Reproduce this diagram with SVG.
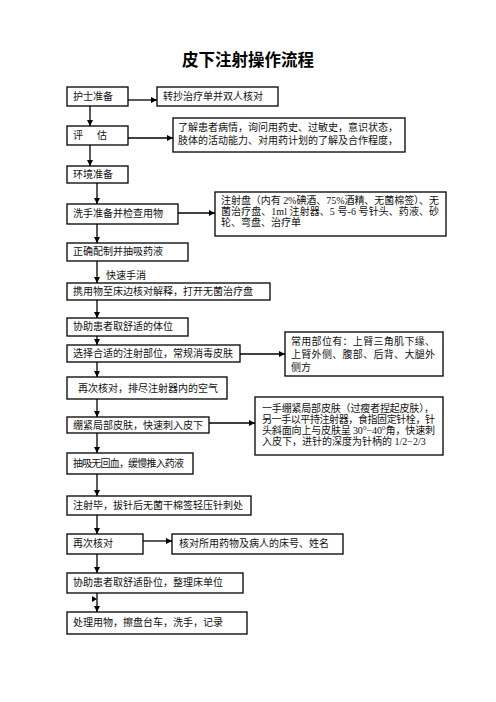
<svg xmlns="http://www.w3.org/2000/svg" width="496" height="702" viewBox="0 0 496 702">
<defs>
<marker id="ah" markerWidth="6" markerHeight="6" refX="6" refY="3" orient="auto" markerUnits="userSpaceOnUse">
<path d="M0,0 L6,3 L0,6 z" fill="#000"/>
</marker>
<style>
.box{fill:#fff;stroke:#000;stroke-width:1.3}
.t{font-family:"Liberation Serif","Noto Sans CJK SC",serif;font-size:10px;fill:#111}
.title{font-family:"Liberation Sans","Noto Sans CJK SC",sans-serif;font-size:16.5px;font-weight:bold;fill:#000}
.c{stroke:#000;stroke-width:1.3;fill:none}
.ca{stroke:#000;stroke-width:1.3;fill:none;marker-end:url(#ah)}
</style>
</defs>
<rect width="496" height="702" fill="#fff"/>
<text class="title" x="248" y="66" text-anchor="middle">皮下注射操作流程</text>

<g id="connectors">
<line class="ca" x1="90" y1="106" x2="90" y2="126"/>
<line class="ca" x1="90" y1="145" x2="90" y2="166"/>
<line class="ca" x1="97" y1="183" x2="97" y2="204"/>
<line class="ca" x1="97" y1="224" x2="97" y2="243"/>
<line class="ca" x1="97" y1="261" x2="97" y2="283"/>
<line class="ca" x1="97" y1="300" x2="97" y2="318"/>
<line class="ca" x1="97" y1="336" x2="97" y2="345"/>
<line class="ca" x1="97" y1="362" x2="97" y2="377"/>
<line class="ca" x1="97" y1="399" x2="97" y2="417"/>
<line class="ca" x1="97" y1="433" x2="97" y2="453"/>
<line class="ca" x1="97" y1="474" x2="97" y2="496"/>
<line class="ca" x1="97" y1="515" x2="97" y2="534"/>
<line class="ca" x1="97" y1="554" x2="97" y2="573"/>
<line class="ca" x1="97" y1="593" x2="97" y2="612"/>
<path d="M92,596 L97,599 L92,602 z" fill="#000"/>
<line class="ca" x1="128" y1="100" x2="157" y2="100"/>
<line class="ca" x1="128" y1="138" x2="173" y2="138"/>
<line class="ca" x1="178" y1="213" x2="215" y2="213"/>
<line class="ca" x1="240" y1="354" x2="285" y2="354"/>
<line class="ca" x1="209" y1="423" x2="255" y2="423"/>
<line class="ca" x1="143" y1="541" x2="172" y2="541"/>
<text class="t" x="106" y="279">快速手消</text>
</g>

<g id="n1"><rect class="box" x="67" y="87" width="61" height="19"/><text class="t" x="73" y="100">护士准备</text></g>
<g id="n2"><rect class="box" x="157" y="87" width="121" height="19"/><text class="t" x="163" y="100">转抄治疗单并双人核对</text></g>
<g id="n3"><rect class="box" x="67" y="126" width="61" height="19"/><text class="t" x="73" y="139" xml:space="preserve">评<tspan x="97">估</tspan></text></g>
<g id="n4"><rect class="box" x="173" y="118" width="232" height="34"/>
<text class="t" x="178" y="131" textLength="220">了解患者病情，询问用药史、过敏史，意识状态，</text>
<text class="t" x="178" y="144" textLength="220">肢体的活动能力、对用药计划的了解及合作程度，</text></g>
<g id="n5"><rect class="box" x="67" y="166" width="61" height="17"/><text class="t" x="73" y="178">环境准备</text></g>
<g id="n6"><rect class="box" x="67" y="204" width="111" height="20"/><text class="t" x="73" y="217">洗手准备并检查用物</text></g>
<g id="n7"><rect class="box" x="215" y="192" width="231" height="44"/>
<text class="t" x="221" y="204" textLength="218">注射盘（内有 2%碘酒、75%酒精、无菌棉签）、无</text>
<text class="t" x="221" y="215" textLength="218">菌治疗盘、1ml 注射器、5 号-6 号针头、药液、砂</text>
<text class="t" x="221" y="226">轮、弯盘、治疗单</text></g>
<g id="n8"><rect class="box" x="67" y="243" width="121" height="18"/><text class="t" x="73" y="255">正确配制并抽吸药液</text></g>
<g id="n9"><rect class="box" x="67" y="283" width="203" height="17"/><text class="t" x="73" y="295">携用物至床边核对解释，打开无菌治疗盘</text></g>
<g id="n10"><rect class="box" x="67" y="318" width="121" height="18"/><text class="t" x="73" y="330">协助患者取舒适的体位</text></g>
<g id="n11"><rect class="box" x="67" y="345" width="173" height="17"/><text class="t" x="73" y="357">选择合适的注射部位，常规消毒皮肤</text></g>
<g id="n12"><rect class="box" x="285" y="332" width="158" height="44"/>
<text class="t" x="291" y="345" textLength="144">常用部位有：上臂三角肌下缘、</text>
<text class="t" x="291" y="358" textLength="144">上臂外侧、腹部、后背、大腿外</text>
<text class="t" x="291" y="371">侧方</text></g>
<g id="n13"><rect class="box" x="67" y="377" width="160" height="22"/><text class="t" x="78" y="392">再次核对，排尽注射器内的空气</text></g>
<g id="n14"><rect class="box" x="67" y="417" width="142" height="16"/><text class="t" x="73" y="429">绷紧局部皮肤，快速刺入皮下</text></g>
<g id="n15"><rect class="box" x="255" y="397" width="188" height="58"/>
<text class="t" x="262" y="412" textLength="172">一手绷紧局部皮肤（过瘦者捏起皮肤），</text>
<text class="t" x="262" y="423" textLength="173">另一手以平持注射器，食指固定针栓，针</text>
<text class="t" x="262" y="434" textLength="173">头斜面向上与皮肤呈 30°−40°角，快速刺</text>
<text class="t" x="262" y="445">入皮下，进针的深度为针柄的 1/2−2/3</text></g>
<g id="n16"><rect class="box" x="67" y="453" width="126" height="21"/><text class="t" x="73" y="467" textLength="111">抽吸无回血，缓慢推入药液</text></g>
<g id="n17"><rect class="box" x="67" y="496" width="184" height="19"/><text class="t" x="73" y="509">注射毕，拔针后无菌干棉签轻压针刺处</text></g>
<g id="n18"><rect class="box" x="67" y="534" width="76" height="20"/><text class="t" x="73" y="547">再次核对</text></g>
<g id="n19"><rect class="box" x="172" y="534" width="171" height="20"/><text class="t" x="179" y="547">核对所用药物及病人的床号、姓名</text></g>
<g id="n20"><rect class="box" x="67" y="573" width="176" height="20"/><text class="t" x="73" y="586">协助患者取舒适卧位，整理床单位</text></g>
<g id="n21"><rect class="box" x="67" y="612" width="180" height="22"/><text class="t" x="73" y="626">处理用物，擦盘台车，洗手，记录</text></g>
</svg>
